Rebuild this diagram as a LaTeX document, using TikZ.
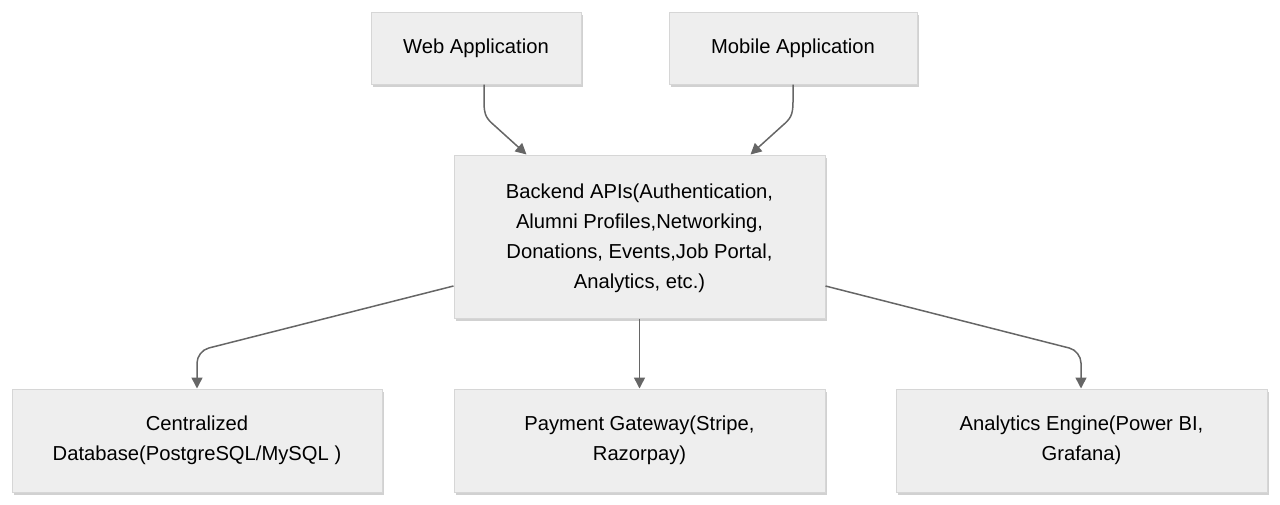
\documentclass[tikz,border=0pt]{standalone}
\usepackage{fontspec}
\setmainfont{Liberation Sans}
\usetikzlibrary{arrows.meta,shadows,calc}
\definecolor{boxfill}{HTML}{EEEEEE}
\definecolor{boxline}{HTML}{D6D6D6}
\definecolor{arrcol}{HTML}{666666}
\tikzset{
  box/.style={draw=boxline, fill=boxfill, line width=1pt, align=center,
    inner sep=0pt, font=\fontsize{20.2}{30}\selectfont,
    drop shadow={shadow xshift=1.5pt, shadow yshift=-2.5pt, opacity=0.18, fill=black}},
  arr/.style={draw=arrcol, line width=1.5pt, -{Triangle[length=11pt,width=11pt]}}
}
\begin{document}
\begin{tikzpicture}[x=1pt,y=-1pt]
\useasboundingbox (0,0) rectangle (1280,504);
\node[box, minimum width=210pt, minimum height=72pt] (web) at (476,48) {Web Application};
\node[box, minimum width=248pt, minimum height=72pt] (mob) at (793,48) {Mobile Application};
\node[box, minimum width=371pt, minimum height=163pt] (back) at (639.5,236.5)
  {\rule{0pt}{18pt}Backend APIs(Authentication,\\Alumni Profiles,Networking,\\Donations, Events,Job Portal,\\Analytics, etc.)};
\node[box, minimum width=370pt, minimum height=103pt] (db) at (197,440.5)
  {Centralized\\Database(PostgreSQL/MySQL )};
\node[box, minimum width=371pt, minimum height=103pt] (pay) at (639.5,440.5)
  {Payment Gateway(Stripe,\\Razorpay)};
\node[box, minimum width=371pt, minimum height=103pt] (an) at (1081.5,440.5)
  {Analytics Engine(Power BI,\\Grafana)};
\coordinate (w1) at (484,102);
\coordinate (w2) at (495,126);
\coordinate (m1) at (793,102);
\coordinate (m2) at (782,126);
\coordinate (dc) at (197,351);
\coordinate (ac) at (1081,351);
\draw[arr] (web.south -| w1) -- (w1) .. controls (484,116) and (487,119) .. (w2) -- ($(back.north west)+(73,0)$);
\draw[arr] (mob.south -| m1) -- (m1) .. controls (793,116) and (790,119) .. (m2) -- ($(back.north west)+(297,0)$);
\draw[arr, rounded corners=12pt] ($(back.west)+(0,49.5)$) -- (dc) -- (db.north);
\draw[arr] (back.south) -- (pay.north);
\draw[arr, rounded corners=12pt] ($(back.east)+(0,49.5)$) -- (ac) -- (an.north -| ac);
\end{tikzpicture}
\end{document}
